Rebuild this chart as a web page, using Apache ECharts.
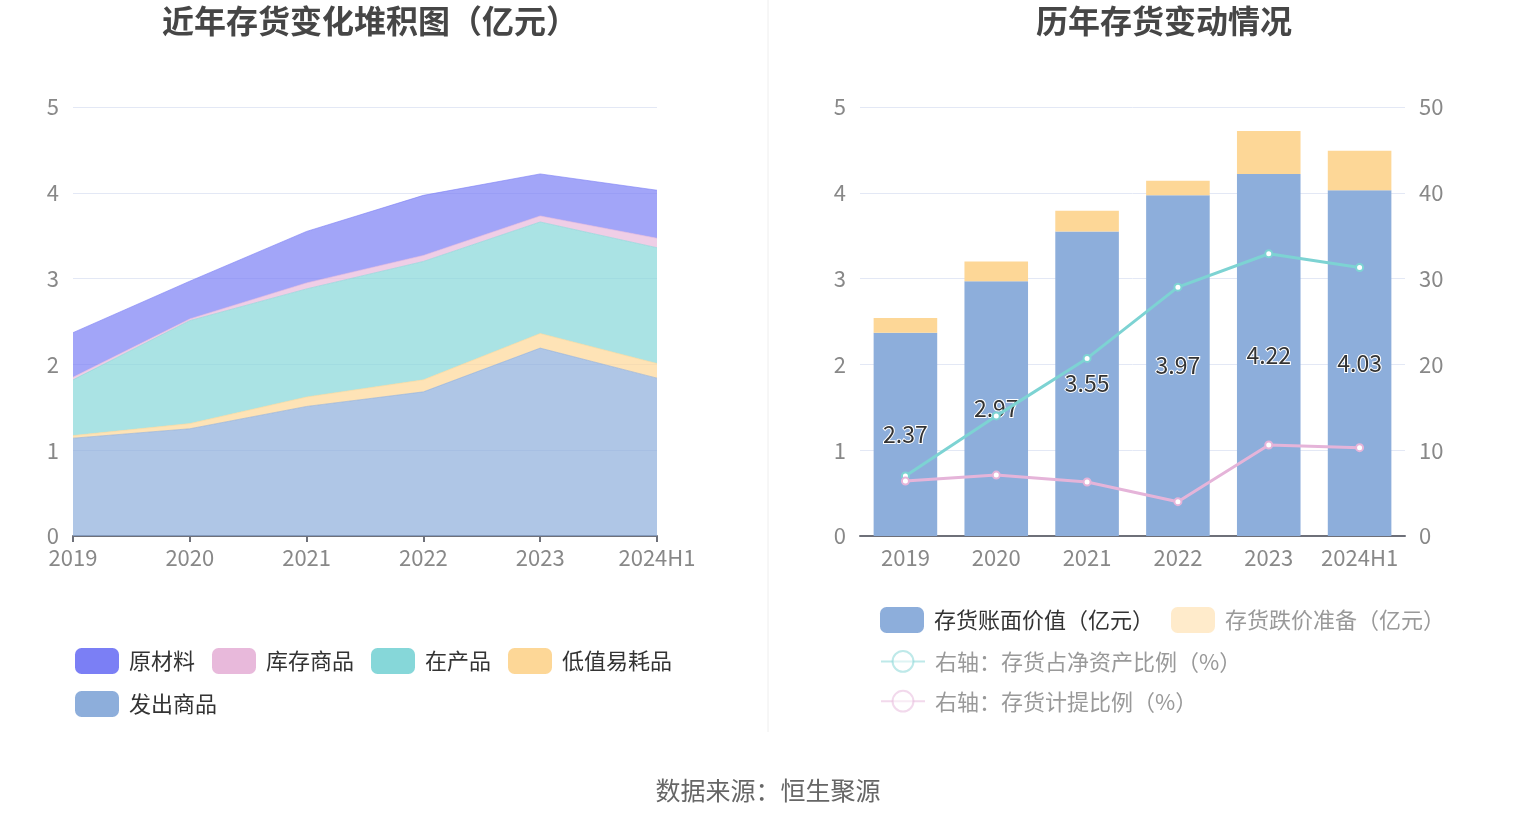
<!DOCTYPE html>
<html>
<head>
<meta charset="utf-8">
<script src="https://cdn.jsdelivr.net/npm/echarts@6/dist/echarts.min.js"></script>
<style>
  html, body { margin: 0; padding: 0; background: #fff; }
  #main { width: 1531px; height: 826px; }
</style>
</head>
<body>
<div id="main"></div>
<script>
var chart = echarts.init(document.getElementById('main'));

// 左图：存货构成（亿元）
var years = ['2019', '2020', '2021', '2022', '2023', '2024H1'];
var yuanCaiLiao = [0.52, 0.44, 0.60, 0.70, 0.49, 0.56];
var kuCunShangPin = [0.03, 0.02, 0.07, 0.07, 0.07, 0.11];
var zaiChanPin = [0.65, 1.20, 1.26, 1.38, 1.30, 1.35];
var diZhiYiHaoPin = [0.03, 0.06, 0.11, 0.14, 0.17, 0.17];
var faChuShangPin = [1.14, 1.25, 1.51, 1.68, 2.19, 1.84];

// 右图：历年存货变动
var zhangMianJiaZhi = [2.37, 2.97, 3.55, 3.97, 4.22, 4.03];
var dieJiaZhunBei = [0.17, 0.23, 0.24, 0.17, 0.50, 0.46];
var jingZiChanBiLi = [7.0, 14.0, 20.7, 29.0, 32.9, 31.3];
var jiTiBiLi = [6.4, 7.1, 6.3, 4.0, 10.6, 10.3];

var font = '"Noto Sans CJK SC", "Microsoft YaHei", sans-serif';
var axisLabel = { color: '#888', fontSize: 22, fontFamily: font };
var splitLine = { lineStyle: { color: '#E3E8F5' } };

function area(name, data, color) {
  return {
    name: name,
    type: 'line',
    stack: 'total',
    xAxisIndex: 0,
    yAxisIndex: 0,
    symbol: 'none',
    data: data,
    itemStyle: { color: color },
    lineStyle: { width: 1, color: color, opacity: 0.6 },
    areaStyle: { color: color, opacity: 0.7 }
  };
}

var option = {
  animation: false,
  title: [
    {
      text: '近年存货变化堆积图（亿元）',
      left: 365, top: 0, textAlign: 'center',
      textStyle: { fontSize: 32, fontWeight: 'bold', color: '#464646', fontFamily: font }
    },
    {
      text: '历年存货变动情况',
      left: 1159, top: 0, textAlign: 'center',
      textStyle: { fontSize: 32, fontWeight: 'bold', color: '#464646', fontFamily: font }
    },
    {
      text: '数据来源：恒生聚源',
      left: 763, top: 773, textAlign: 'center',
      textStyle: { fontSize: 25, fontWeight: 'normal', color: '#666', fontFamily: font }
    }
  ],
  graphic: [
    {
      type: 'line',
      shape: { x1: 768, y1: 0, x2: 768, y2: 732 },
      style: { stroke: '#EEEEEE', lineWidth: 1 }
    }
  ],
  legend: [
    {
      left: 70, top: 643, width: 680,
      itemWidth: 44, itemHeight: 26, itemGap: 17,
      icon: 'roundRect',
      textStyle: { fontSize: 22, color: '#333', fontFamily: font, padding: [0, 0, 0, 5] },
      data: ['原材料', '库存商品', '在产品', '低值易耗品', '发出商品']
    },
    {
      left: 875, top: 602, width: 640,
      itemWidth: 44, itemHeight: 26, itemGap: 17,
      textStyle: { fontSize: 22, color: '#333', fontFamily: font, padding: [0, 0, 0, 5] },
      data: [
        { name: '存货账面价值（亿元）', icon: 'roundRect' },
        { name: '存货跌价准备（亿元）', icon: 'roundRect',
          itemStyle: { color: '#FFEBCB' }, textStyle: { color: '#999' } }
      ]
    },
    {
      left: 875, top: 645, orient: 'vertical',
      itemWidth: 44, itemHeight: 26, itemGap: 17,
      textStyle: { fontSize: 22, color: '#999', fontFamily: font, padding: [0, 0, 0, 5] },
      data: [
        { name: '右轴：存货占净资产比例（%）',
          itemStyle: { opacity: 0.5 }, lineStyle: { opacity: 0.5 } },
        { name: '右轴：存货计提比例（%）',
          itemStyle: { opacity: 0.5 }, lineStyle: { opacity: 0.5 } }
      ]
    }
  ],
  grid: [
    { left: 73, right: 1531 - 657, top: 107, height: 429 },
    { left: 860, right: 1531 - 1405, top: 107, height: 429 }
  ],
  xAxis: [
    {
      type: 'category', gridIndex: 0, data: years, boundaryGap: false,
      axisLine: { lineStyle: { color: '#6E7079', width: 2 } },
      axisTick: { length: 6, lineStyle: { color: '#6E7079', width: 2 } },
      axisLabel: { color: '#888', fontSize: 22, fontFamily: font, margin: 11, interval: 0 }
    },
    {
      type: 'category', gridIndex: 1, data: years,
      axisLine: { lineStyle: { color: '#6E7079', width: 2 } },
      axisTick: { alignWithLabel: true, length: 6, lineStyle: { color: '#6E7079', width: 2 } },
      axisLabel: { color: '#888', fontSize: 22, fontFamily: font, margin: 11, interval: 0 }
    }
  ],
  yAxis: [
    {
      type: 'value', gridIndex: 0, min: 0, max: 5, interval: 1,
      axisLabel: Object.assign({ margin: 14 }, axisLabel), splitLine: splitLine
    },
    {
      type: 'value', gridIndex: 1, min: 0, max: 5, interval: 1,
      axisLabel: Object.assign({ margin: 14 }, axisLabel), splitLine: splitLine
    },
    {
      type: 'value', gridIndex: 1, min: 0, max: 50, interval: 10, position: 'right',
      axisLabel: Object.assign({ margin: 14 }, axisLabel), splitLine: { show: false }
    }
  ],
  series: [
    area('发出商品', faChuShangPin, '#8DAEDB'),
    area('低值易耗品', diZhiYiHaoPin, '#FDD797'),
    area('在产品', zaiChanPin, '#86D7D9'),
    area('库存商品', kuCunShangPin, '#E8B9DB'),
    area('原材料', yuanCaiLiao, '#7B7FF5'),
    {
      name: '存货账面价值（亿元）',
      type: 'bar', stack: 'bar', xAxisIndex: 1, yAxisIndex: 1,
      barWidth: '70%',
      data: zhangMianJiaZhi,
      itemStyle: { color: '#8DAEDB' },
      label: {
        show: true, position: 'inside', fontSize: 23, color: '#333',
        fontFamily: font, textBorderColor: '#fff', textBorderWidth: 2
      }
    },
    {
      name: '存货跌价准备（亿元）',
      type: 'bar', stack: 'bar', xAxisIndex: 1, yAxisIndex: 1,
      barWidth: '70%',
      data: dieJiaZhunBei,
      itemStyle: { color: '#FDD797' }
    },
    {
      name: '右轴：存货占净资产比例（%）',
      type: 'line', xAxisIndex: 1, yAxisIndex: 2,
      data: jingZiChanBiLi,
      symbol: 'emptyCircle', symbolSize: 7,
      itemStyle: { color: '#7DD3D3' },
      lineStyle: { width: 3, color: '#7DD3D3' },
      z: 5
    },
    {
      name: '右轴：存货计提比例（%）',
      type: 'line', xAxisIndex: 1, yAxisIndex: 2,
      data: jiTiBiLi,
      symbol: 'emptyCircle', symbolSize: 7,
      itemStyle: { color: '#E5B4D9' },
      lineStyle: { width: 3, color: '#E5B4D9' },
      z: 5
    }
  ]
};

option && chart.setOption(option);
</script>
</body>
</html>
